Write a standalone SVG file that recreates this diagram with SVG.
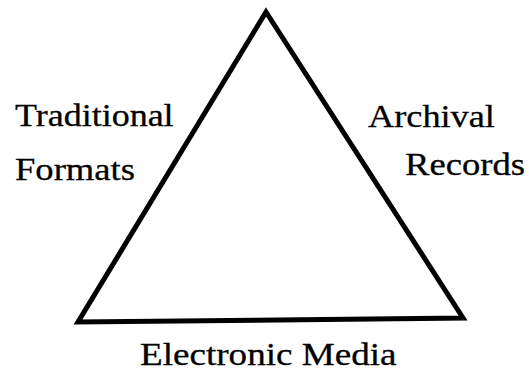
<svg xmlns="http://www.w3.org/2000/svg" width="529" height="378" viewBox="0 0 529 378">
<style>
.edge{fill:none;stroke:#000;stroke-width:5;stroke-linejoin:miter}
</style>
<rect width="529" height="378" fill="#fff"/>
<g id="connectors">
<polygon class="edge" points="266,12 463,318 78,322"/>
</g>
<g id="traditional-formats">
<text transform="translate(15,126) scale(1.125,1)" font-family="'Liberation Serif'" font-size="32" stroke="#000" stroke-width="0.3">Traditional</text>
<text transform="translate(15,180) scale(1.144,1)" font-family="'Liberation Serif'" font-size="32" stroke="#000" stroke-width="0.3">Formats</text>
</g>
<g id="archival-records">
<text transform="translate(368,127) scale(1.134,1)" font-family="'Liberation Serif'" font-size="32" stroke="#000" stroke-width="0.3">Archival</text>
<text transform="translate(405,175) scale(1.144,1)" font-family="'Liberation Serif'" font-size="32" stroke="#000" stroke-width="0.3">Records</text>
</g>
<g id="electronic-media">
<text transform="translate(140,365) scale(1.16,1)" font-family="'Liberation Serif'" font-size="32" stroke="#000" stroke-width="0.3">Electronic Media</text>
</g>
</svg>
